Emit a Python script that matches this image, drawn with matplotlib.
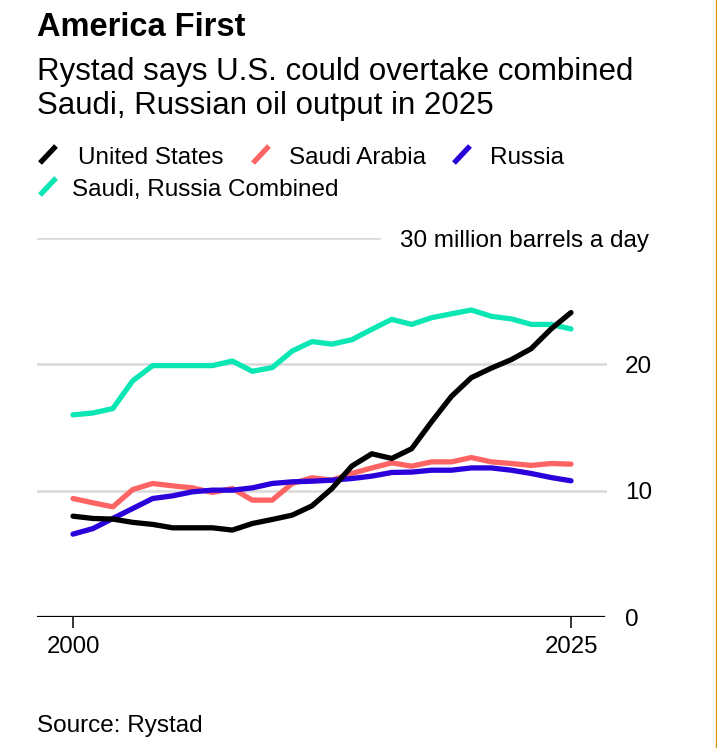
import matplotlib
matplotlib.use("Agg")
import matplotlib.pyplot as plt
from matplotlib.lines import Line2D

plt.rcParams['font.family'] = ['Liberation Sans', 'DejaVu Sans']

years = list(range(2000, 2026))
united_states = [7.98, 7.8, 7.75, 7.49, 7.33, 7.06, 7.06, 7.06, 6.88, 7.4, 7.72, 8.06, 8.8,
                 10.17, 11.95, 12.92, 12.55, 13.32, 15.45, 17.47, 18.95, 19.7, 20.37, 21.24, 22.8, 24.1]
saudi_arabia = [9.38, 9.04, 8.72, 10.09, 10.57, 10.38, 10.22, 9.86, 10.17, 9.25, 9.25, 10.57, 11.02,
                10.83, 11.36, 11.8, 12.2, 11.94, 12.28, 12.28, 12.62, 12.28, 12.15, 12.0, 12.15, 12.1]
russia = [6.56, 7.0, 7.8, 8.59, 9.38, 9.59, 9.91, 10.04, 10.04, 10.22, 10.57, 10.7, 10.75,
          10.83, 10.96, 11.15, 11.44, 11.47, 11.62, 11.62, 11.8, 11.8, 11.62, 11.36, 11.04, 10.78]
combined = [16.0, 16.15, 16.5, 18.7, 19.9, 19.9, 19.9, 19.9, 20.26, 19.45, 19.74, 21.05, 21.8,
            21.6, 21.95, 22.77, 23.56, 23.16, 23.69, 24.0, 24.3, 23.8, 23.6, 23.16, 23.16, 22.8]

series_names = ["United States", "Saudi Arabia", "Russia", "Saudi, Russia Combined"]
series_colors = ["#000000", "#ff6464", "#2a00db", "#0ae6b4"]
y_ticks = [0, 10, 20, 30]
y_tick_labels = ["0", "10", "20", "30 million barrels a day"]
x_ticks = [2000, 2025]
x_tick_labels = ["2000", "2025"]

W, H = 717, 748
fig = plt.figure(figsize=(W / 100, H / 100), dpi=100)
fig.patch.set_facecolor("white")

def fx(px):
    return px / W

def fy(py):
    return 1 - py / H

ax_left, ax_right, ax_top, ax_bottom = 37, 607, 238, 617
ax = fig.add_axes([fx(ax_left), fy(ax_bottom), (ax_right - ax_left) / W, (ax_bottom - ax_top) / H])
ax.set_facecolor("none")
px_per_year = (571 - 73) / 25
ax.set_xlim(2000 - (73 - ax_left) / px_per_year, 2025 + (ax_right - 571) / px_per_year)
ax.set_ylim(0, 30)

for s in ax.spines.values():
    s.set_visible(False)

grid_color = "#d9d9d9"
ax.axhline(10, color=grid_color, lw=1.8, zorder=1)
ax.axhline(20, color=grid_color, lw=1.8, zorder=1)
ax.axhline(30, xmin=0, xmax=(379 - ax_left) / (ax_right - ax_left), color=grid_color, lw=1.8, zorder=1)
ax.axhline(0, xmin=0, xmax=(604 - ax_left) / (ax_right - ax_left), color="black", lw=1.6, zorder=2)

data = [united_states, saudi_arabia, russia, combined]
order = [3, 1, 2, 0]
for i in order:
    ax.plot(years, data[i], color=series_colors[i], lw=3.8, solid_capstyle="round",
            solid_joinstyle="round", zorder=3 + (i == 0), clip_on=False)

ax.set_xticks(x_ticks)
ax.set_xticklabels(x_tick_labels, fontsize=17.3)
ax.tick_params(axis="x", length=8, width=1.1, color="black", pad=6, direction="out")
ax.set_yticks([])

ytrans = ax.get_yaxis_transform()
for v, lab in zip(y_ticks, y_tick_labels):
    xpos = (400 - ax_left) / (ax_right - ax_left) if v == 30 else (625 - ax_left) / (ax_right - ax_left)
    ax.text(xpos, v, lab, transform=ytrans, ha="left", va="center_baseline", fontsize=17.5, color="black")

# Title and subtitle
fig.text(fx(37), fy(36), "America First", fontsize=23.5, fontweight="bold", ha="left", va="baseline")
fig.text(fx(37), fy(80), "Rystad says U.S. could overtake combined", fontsize=22.5, ha="left", va="baseline")
fig.text(fx(37), fy(114), "Saudi, Russian oil output in 2025", fontsize=22.5, ha="left", va="baseline")

# Legend
legend_items = [
    (0, (40, 163), (56, 146), 78, 164),
    (1, (253, 163), (269, 146), 289, 164),
    (2, (454, 163), (470, 146), 490, 164),
    (3, (40, 195), (56, 178), 72, 196),
]
for idx, p0, p1, tx, ty in legend_items:
    fig.add_artist(Line2D([fx(p0[0]), fx(p1[0])], [fy(p0[1]), fy(p1[1])],
                          color=series_colors[idx], lw=3.8, solid_capstyle="butt"))
    fig.text(fx(tx), fy(ty), series_names[idx], fontsize=17.5, ha="left", va="baseline")

fig.text(fx(37), fy(732), "Source: Rystad", fontsize=17.5, ha="left", va="baseline")

# right border line
fig.add_artist(Line2D([fx(715.5), fx(715.5)], [0, 1], color="#d4960a", lw=1.0))

fig.savefig("out.png", dpi=100, facecolor="white")
